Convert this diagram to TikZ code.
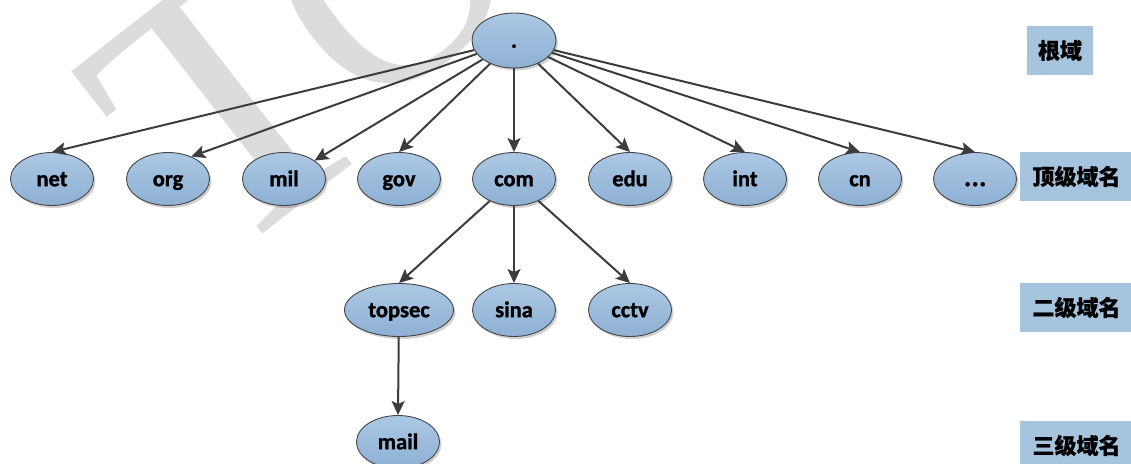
\documentclass[tikz,border=0pt]{standalone}
\usepackage{fontspec}
\setmainfont{Carlito}[BoldFeatures={FakeBold=1.2}]
\newfontfamily\cjk{Noto Sans CJK SC}[BoldFeatures={FakeBold=0.6}]
\newfontfamily\wmfont{Liberation Serif}
\usetikzlibrary{arrows.meta,shadows,shapes.geometric}

\definecolor{ellTop}{HTML}{ACC8E4}
\definecolor{ellBot}{HTML}{8DB0D4}
\definecolor{ellLine}{HTML}{454545}
\definecolor{linkCol}{HTML}{3C3C3C}
\definecolor{tagFill}{HTML}{A6C4DE}
\definecolor{wmGray}{HTML}{DCDCDC}

\begin{document}
\begin{tikzpicture}[x=1pt,y=-1pt,
  dom/.style={ellipse, draw=ellLine, line width=0.9pt,
    top color=ellTop, bottom color=ellBot,
    minimum width=83pt, minimum height=53pt, inner sep=0pt,
    font=\bfseries\fontsize{22.5}{22.5}\selectfont,
    text height=14.4pt, text depth=0pt,
    drop shadow={shadow xshift=2pt, shadow yshift=-2.5pt, opacity=0.18, fill=black}},
  wide/.style={minimum width=109pt},
  tag/.style={rectangle, fill=tagFill, inner sep=0pt, minimum height=49pt,
    font=\cjk\bfseries\fontsize{22}{22}\selectfont},
  link/.style={draw=linkCol, line width=2pt,
    -{Stealth[length=14pt,width=13pt,inset=3pt]}},
  wm/.style={text=wmGray, inner sep=0pt, anchor=base west, rotate=38}
]
\useasboundingbox (0,0) rectangle (1131,463);

% faint watermark letters behind the tree
\node[wm, font=\wmfont\fontsize{375}{375}\selectfont] (wmT) at (217,270) {T};
\node[wm, font=\wmfont\fontsize{300}{300}\selectfont] (wmO) at (364,124) {O};

% root
\node[dom, minimum width=84pt, minimum height=55pt] (root) at (514,40.5) {.};

% top-level domains
\node[dom] (net)  at (52,179)  {net};
\node[dom] (org)  at (168,179) {org};
\node[dom] (mil)  at (284,179) {mil};
\node[dom] (gov)  at (399,179) {gov};
\node[dom] (com)  at (514,179) {com};
\node[dom] (edu)  at (630,179) {edu};
\node[dom] (int)  at (745,179) {int};
\node[dom] (cn)   at (860,179) {cn};
\node[dom] (dots) at (975,179) {\cjk\fontsize{20}{20}\selectfont …};

% second-level domains
\node[dom, wide] (topsec) at (399,310) {topsec};
\node[dom] (sina) at (514,310) {sina};
\node[dom] (cctv) at (630,310) {cctv};

% third-level domain
\node[dom] (mail) at (398,442) {mail};

% level captions
\node[tag, minimum width=66pt]  (lvl0) at (1060,50.5)   {根域};
\node[tag, minimum width=113pt] (lvl1) at (1076.5,176.5) {顶级域名};
\node[tag, minimum width=113pt] (lvl2) at (1076.5,307.5) {二级域名};
\node[tag, minimum width=113pt] (lvl3) at (1076.5,445.5) {三级域名};

% links
\draw[link] (root) -- (net.north);
\draw[link] (root) -- (org.44);
\draw[link] (root) -- (mil.31);
\draw[link] (root) -- (gov.north);
\draw[link] (root) -- (com.north);
\draw[link] (root) -- (edu.north);
\draw[link] (root) -- (int.north);
\draw[link] (root) -- (cn.north);
\draw[link] (root) -- (dots.north);
\draw[link] (com) -- (topsec.north);
\draw[link] (com) -- (sina.north);
\draw[link] (com) -- (cctv.north);
\draw[link] (topsec) -- (mail.north);
\end{tikzpicture}
\end{document}
